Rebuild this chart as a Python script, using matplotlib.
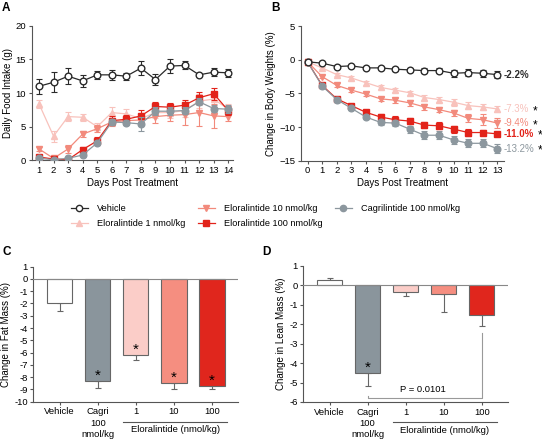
import matplotlib
matplotlib.use('Agg')
import matplotlib.pyplot as plt
import matplotlib.transforms as mtransforms
from matplotlib.lines import Line2D
import numpy as np

plt.rcParams['font.family'] = ['Liberation Sans', 'DejaVu Sans']
plt.rcParams['font.size'] = 6.5

# ---- data ----
series_names = ['Vehicle', 'Eloralintide 1 nmol/kg', 'Eloralintide 10 nmol/kg',
                'Eloralintide 100 nmol/kg', 'Cagrilintide 100 nmol/kg']

days_a = list(range(1, 15))
food_veh = [11.0, 11.6, 12.5, 11.8, 12.7, 12.7, 12.5, 13.7, 12.0, 14.0, 14.1, 12.7, 13.1, 13.0]
food_veh_err = [1.1, 1.5, 1.2, 0.9, 0.6, 0.7, 0.5, 1.0, 0.8, 1.0, 0.6, 0.2, 0.6, 0.6]
food_e1 = [8.4, 3.6, 6.5, 6.4, 5.0, 7.1, 6.9, 6.2, 7.1, 7.1, 7.4, 8.8, 9.1, 7.6]
food_e1_err = [0.6, 0.8, 0.7, 0.5, 0.5, 0.8, 0.8, 0.9, 0.8, 0.8, 0.9, 1.0, 1.0, 0.8]
food_e10 = [1.7, 0.3, 1.7, 3.9, 4.7, 5.7, 5.9, 6.0, 6.5, 6.7, 6.8, 7.1, 6.6, 6.5]
food_e10_err = [0.3, 0.2, 0.6, 0.4, 0.5, 0.6, 0.7, 0.8, 0.9, 0.8, 1.5, 2.0, 1.8, 0.6]
food_e100 = [0.5, 0.2, 0.1, 1.6, 2.9, 5.9, 6.1, 6.6, 8.0, 7.9, 8.2, 9.3, 9.9, 7.4]
food_e100_err = [0.2, 0.1, 0.1, 0.4, 0.6, 0.7, 0.6, 0.9, 0.7, 0.6, 0.8, 0.9, 0.9, 0.6]
food_cag = [0.3, 0.1, 0.3, 0.8, 2.6, 5.7, 5.6, 5.4, 7.3, 7.3, 7.4, 8.7, 7.7, 7.6]
food_cag_err = [0.1, 0.1, 0.2, 0.2, 0.3, 0.5, 0.4, 1.0, 0.6, 0.6, 0.5, 0.5, 0.5, 0.6]

days_b = list(range(0, 14))
bw_veh = [-0.3, -0.5, -1.0, -0.9, -1.2, -1.2, -1.4, -1.5, -1.6, -1.6, -2.0, -1.9, -2.0, -2.2]
bw_veh_err = [0.1, 0.1, 0.2, 0.2, 0.2, 0.2, 0.3, 0.3, 0.4, 0.4, 0.5, 0.5, 0.5, 0.5]
bw_e1 = [-0.3, -1.2, -2.2, -2.7, -3.4, -4.1, -4.5, -4.9, -5.6, -5.9, -6.3, -6.8, -7.0, -7.3]
bw_e1_err = [0.1, 0.2, 0.2, 0.3, 0.3, 0.3, 0.3, 0.3, 0.4, 0.4, 0.5, 0.5, 0.5, 0.5]
bw_e10 = [-0.3, -2.5, -3.8, -4.5, -5.1, -5.8, -6.0, -6.4, -7.0, -7.4, -7.9, -8.7, -8.9, -9.4]
bw_e10_err = [0.1, 0.2, 0.3, 0.3, 0.3, 0.3, 0.4, 0.4, 0.4, 0.4, 0.4, 0.6, 0.8, 0.8]
bw_e100 = [-0.3, -3.8, -5.8, -6.8, -7.8, -8.5, -8.9, -9.1, -9.7, -9.8, -10.3, -10.8, -10.8, -11.0]
bw_e100_err = [0.1, 0.2, 0.3, 0.3, 0.4, 0.4, 0.5, 0.5, 0.5, 0.5, 0.5, 0.5, 0.4, 0.3]
bw_cag = [-0.3, -3.9, -5.9, -7.2, -8.5, -9.3, -9.4, -10.3, -11.2, -11.2, -11.9, -12.4, -12.4, -13.2]
bw_cag_err = [0.1, 0.2, 0.3, 0.3, 0.3, 0.4, 0.5, 0.5, 0.6, 0.6, 0.6, 0.6, 0.6, 0.7]
bw_star = [False, True, True, True, True]

bar_labels = ['Vehicle', 'Cagri\n100\nnmol/kg', '1', '10', '100']
fat_mass = [-2.0, -8.3, -6.2, -8.5, -8.7]
fat_mass_err = [0.6, 0.6, 0.4, 0.45, 0.3]
fat_star = [False, True, True, True, True]
lean_mass = [0.3, -4.5, -0.35, -0.45, -1.5]
lean_mass_err = [0.1, 0.7, 0.2, 0.9, 0.6]
lean_star = [False, True, False, False, False]

# ---- styles ----
c_veh = '#2a2a2a'
c_e1 = '#f8c2bc'
c_e10 = '#f28a7c'
c_e100 = '#e2231a'
c_cag = '#8c979e'
line_colors = [c_veh, c_e1, c_e10, c_e100, c_cag]
markers = ['o', '^', 'v', 's', 'o']
bar_colors = ['white', '#8a959c', '#fbcdc8', '#f58e80', '#e0261d']
ax_col = '#555555'

fig = plt.figure(figsize=(5.42, 4.43), dpi=100)


def style_axes(ax):
    for s in ['top', 'right']:
        ax.spines[s].set_visible(False)
    for s in ['left', 'bottom']:
        ax.spines[s].set_color(ax_col)
        ax.spines[s].set_linewidth(0.8)
    ax.tick_params(direction='out', length=2.5, width=0.8, color=ax_col, labelsize=6.8, pad=1.5)


def draw_series(ax, x, ys, errs):
    for i in range(5):
        mfc = 'white' if i == 0 else line_colors[i]
        ax.errorbar(x, ys[i], yerr=errs[i], color=line_colors[i], marker=markers[i],
                    ms=4.8, mfc=mfc, mec=line_colors[i], lw=0.9, elinewidth=0.8,
                    capsize=2, capthick=0.8, zorder=3 + i if i else 9)


# ---- A ----
axA = fig.add_axes([0.0585, 0.638, 0.372, 0.304])
draw_series(axA, days_a, [food_veh, food_e1, food_e10, food_e100, food_cag],
            [food_veh_err, food_e1_err, food_e10_err, food_e100_err, food_cag_err])
axA.set_xlim(0.5, 14.35)
axA.set_ylim(0, 20)
axA.set_xticks(days_a)
axA.set_yticks([0, 5, 10, 15, 20])
axA.set_xlabel('Days Post Treatment', fontsize=7, labelpad=2)
axA.set_ylabel('Daily Food Intake (g)', fontsize=7, labelpad=2)
style_axes(axA)

# ---- B ----
axB = fig.add_axes([0.555, 0.637, 0.375, 0.304])
bw_all = [bw_veh, bw_e1, bw_e10, bw_e100, bw_cag]
draw_series(axB, days_b, bw_all,
            [bw_veh_err, bw_e1_err, bw_e10_err, bw_e100_err, bw_cag_err])
axB.set_xlim(-0.46, 13.45)
axB.set_ylim(-15, 5)
axB.set_xticks(days_b)
axB.set_yticks([5, 0, -5, -10, -15])
axB.set_xlabel('Days Post Treatment', fontsize=7, labelpad=2)
axB.set_ylabel('Change in Body Weights (%)', fontsize=7, labelpad=2)
style_axes(axB)

# end-of-line labels, star placed just after each label
renderer = fig.canvas.get_renderer()
end_weights = ['bold', 'normal', 'normal', 'bold', 'normal']
for i in range(5):
    v = bw_all[i][-1]
    t = axB.text(13.45, v, f'{v:.1f}%', color=line_colors[i], fontsize=7,
                 fontweight=end_weights[i], va='center', ha='left', clip_on=False)
    if bw_star[i]:
        bb = t.get_window_extent(renderer)
        xs = axB.transData.inverted().transform((bb.x1 + 3, 0))[0]
        axB.text(xs, v - 0.3, '*', color='black', fontsize=8.5,
                 va='center', ha='left', clip_on=False)

# ---- legend ----
handles = []
for i in range(5):
    mfc = 'white' if i == 0 else line_colors[i]
    handles.append(Line2D([], [], color=line_colors[i], marker=markers[i], ms=4.5,
                          mfc=mfc, mec=line_colors[i], lw=0.9))
fig.legend(handles, series_names, ncol=3, loc='center', bbox_to_anchor=(0.49, 0.512),
           frameon=False, fontsize=6.6, handlelength=1.8, handletextpad=1.0,
           columnspacing=1.4, labelspacing=0.7)


# ---- C & D ----
def bar_panel(ax, vals, errs, stars, ylim, yticks, ylabel):
    x = np.arange(len(vals))
    for i in range(len(vals)):
        ax.bar(x[i], vals[i], width=0.66, color=bar_colors[i], edgecolor='#666666',
               linewidth=0.8, zorder=2)
        if vals[i] < 0:
            yerr = [[errs[i]], [0]]
        else:
            yerr = [[0], [errs[i]]]
        ax.errorbar(x[i], vals[i], yerr=yerr, fmt='none', ecolor='#666666',
                    elinewidth=0.8, capsize=2.5, capthick=0.8, zorder=1)
        if stars[i]:
            ax.text(x[i], vals[i] + 0.04 * (ylim[1] - ylim[0]), '*', ha='center', va='center',
                    fontsize=11, zorder=5)
    ax.axhline(0, color='#888888', lw=0.8, zorder=3)
    ax.set_xlim(-0.69, 4.68)
    ax.set_ylim(*ylim)
    ax.set_yticks(yticks)
    ax.set_yticklabels([str(t) for t in yticks])
    ax.set_xticks(x)
    ax.set_xticklabels(bar_labels, linespacing=1.35, va='top')
    ax.set_ylabel(ylabel, fontsize=7, labelpad=2)
    style_axes(ax)
    trans = mtransforms.blended_transform_factory(ax.transData, ax.transAxes)
    ax.plot([1.66, 4.4], [-0.148, -0.148], color='#555555', lw=0.8, transform=trans, clip_on=False)
    ax.text(3.03, -0.175, 'Eloralintide (nmol/kg)', transform=trans, ha='center', va='top',
            fontsize=6.8)


axC = fig.add_axes([0.0615, 0.0932, 0.3775, 0.305])
bar_panel(axC, fat_mass, fat_mass_err, fat_star, (-10, 1), list(range(1, -11, -1)),
          'Change in Fat Mass (%)')

axD = fig.add_axes([0.5596, 0.0926, 0.377, 0.307])
bar_panel(axD, lean_mass, lean_mass_err, lean_star, (-6, 1), list(range(1, -7, -1)),
          'Change in Lean Mass (%)')
axD.plot([1, 1, 4, 4], [-5.68, -5.81, -5.81, -2.45], color='#999999', lw=0.8, zorder=4)
axD.text(2.45, -5.38, 'P = 0.0101', ha='center', va='center', fontsize=6.8)

# ---- panel letters ----
for lbl, x, y in [('A', 0.004, 0.995), ('B', 0.500, 0.995), ('C', 0.004, 0.445), ('D', 0.484, 0.445)]:
    fig.text(x, y, lbl, fontsize=8.5, fontweight='bold', va='top', ha='left')

fig.savefig('out.png', dpi=100)
